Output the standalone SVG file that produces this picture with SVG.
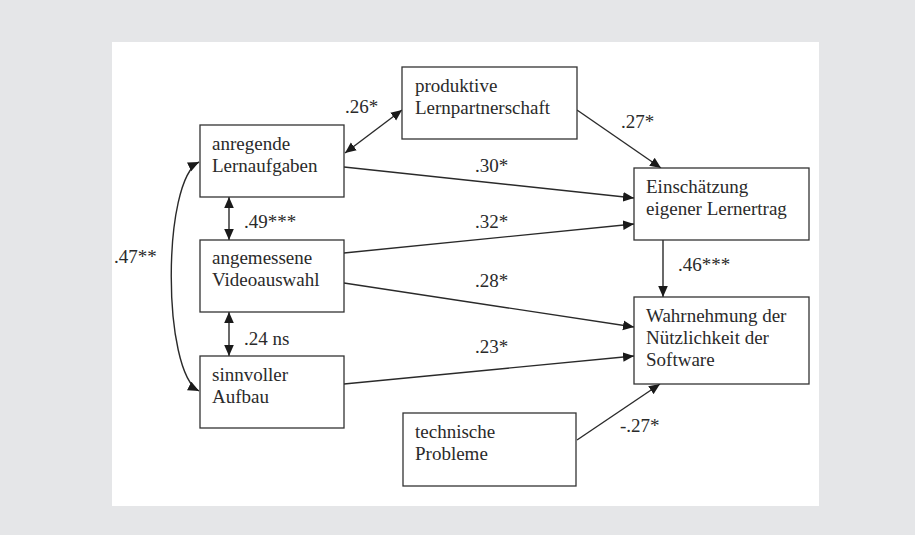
<svg xmlns="http://www.w3.org/2000/svg" width="915" height="535" viewBox="0 0 915 535">
<defs>
<style>
.box{fill:#fff;stroke:#333;stroke-width:1.3}
.t{font-size:19px;fill:#2a2a2a}
.c{fill:none;stroke:#2a2a2a;stroke-width:1.4}
</style>
<marker id="ah" viewBox="0 0 10 10" refX="10" refY="5" markerWidth="11" markerHeight="11" markerUnits="userSpaceOnUse" orient="auto-start-reverse">
<path d="M0,0.6 L10,5 L0,9.4 Z" fill="#1a1a1a"/>
</marker>
</defs>
<rect width="915" height="535" fill="#e5e6e8"/>
<rect x="112" y="42" width="707" height="464" fill="#fff"/>

<g id="connectors">
<line class="c" x1="345" y1="153" x2="402" y2="110" marker-start="url(#ah)" marker-end="url(#ah)"/>
<line class="c" x1="344" y1="167" x2="634" y2="198" marker-end="url(#ah)"/>
<line class="c" x1="344" y1="253" x2="634" y2="224" marker-end="url(#ah)"/>
<line class="c" x1="577" y1="110" x2="661" y2="168" marker-end="url(#ah)"/>
<line class="c" x1="229" y1="197" x2="229" y2="240" marker-start="url(#ah)" marker-end="url(#ah)"/>
<line class="c" x1="229" y1="312" x2="229" y2="356" marker-start="url(#ah)" marker-end="url(#ah)"/>
<line class="c" x1="344" y1="283" x2="634" y2="327" marker-end="url(#ah)"/>
<line class="c" x1="344" y1="384" x2="634" y2="356" marker-end="url(#ah)"/>
<line class="c" x1="663" y1="240" x2="663" y2="297" marker-end="url(#ah)"/>
<line class="c" x1="577" y1="440" x2="660" y2="384" marker-end="url(#ah)"/>
<path class="c" d="M199,162 C162,180 162,372 199,391" marker-start="url(#ah)" marker-end="url(#ah)"/>
</g>

<g font-family="Liberation Serif, DejaVu Serif, serif">
<g id="labels">
<text class="t" x="345" y="113">.26*</text>
<text class="t" x="475" y="172">.30*</text>
<text class="t" x="475" y="228">.32*</text>
<text class="t" x="621" y="128">.27*</text>
<text class="t" x="244" y="228">.49***</text>
<text class="t" x="114" y="263">.47**</text>
<text class="t" x="244" y="345">.24 ns</text>
<text class="t" x="475" y="287">.28*</text>
<text class="t" x="475" y="353">.23*</text>
<text class="t" x="678" y="271">.46***</text>
<text class="t" x="620" y="432">-.27*</text>
</g>

<g id="n_anregende">
<rect class="box" x="200" y="125" width="144" height="72"/>
<text class="t" x="212" y="150">anregende</text>
<text class="t" x="212" y="172">Lernaufgaben</text>
</g>
<g id="n_produktive">
<rect class="box" x="402" y="67" width="175" height="72"/>
<text class="t" x="415" y="92">produktive</text>
<text class="t" x="415" y="114">Lernpartnerschaft</text>
</g>
<g id="n_einschaetzung">
<rect class="box" x="634" y="168" width="175" height="72"/>
<text class="t" x="646" y="193">Einschätzung</text>
<text class="t" x="646" y="215">eigener Lernertrag</text>
</g>
<g id="n_angemessene">
<rect class="box" x="200" y="240" width="144" height="72"/>
<text class="t" x="212" y="264">angemessene</text>
<text class="t" x="212" y="286">Videoauswahl</text>
</g>
<g id="n_sinnvoller">
<rect class="box" x="200" y="356" width="144" height="72"/>
<text class="t" x="212" y="381">sinnvoller</text>
<text class="t" x="212" y="403">Aufbau</text>
</g>
<g id="n_wahrnehmung">
<rect class="box" x="634" y="297" width="175" height="87"/>
<text class="t" x="646" y="322">Wahrnehmung der</text>
<text class="t" x="646" y="344">Nützlichkeit der</text>
<text class="t" x="646" y="366">Software</text>
</g>
<g id="n_technische">
<rect class="box" x="403" y="413" width="173" height="73"/>
<text class="t" x="415" y="438">technische</text>
<text class="t" x="415" y="460">Probleme</text>
</g>
</g>
</svg>
